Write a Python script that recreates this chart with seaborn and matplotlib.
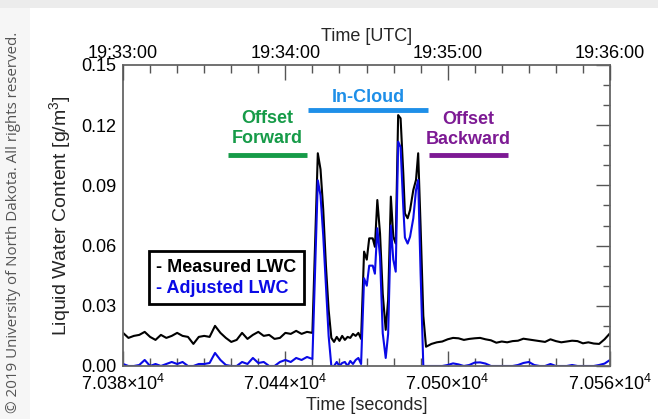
import numpy as np
import pandas as pd
import matplotlib
matplotlib.use("Agg")
import matplotlib.pyplot as plt
import seaborn as sns
from matplotlib.ticker import FixedLocator, MultipleLocator, FuncFormatter
from matplotlib.patches import Rectangle

# Zeit [s] und LWC [g/m^3]
time_s = [
    70380, 70382, 70384, 70386, 70388, 70390, 70392, 70394, 70396, 70398,
    70400, 70402, 70404, 70406, 70408, 70410, 70412, 70414, 70416, 70418,
    70420, 70422, 70424, 70426, 70428, 70430, 70432, 70434, 70436, 70438,
    70440, 70442, 70444, 70446, 70448, 70450,
    70452, 70453, 70454, 70455, 70456, 70457, 70458, 70459, 70460, 70461,
    70462, 70463, 70464, 70465, 70466, 70467, 70468,
    70469.1, 70470.1, 70471.0, 70472.3, 70473.1, 70474.0, 70475.0, 70476.0,
    70477.1, 70478.0, 70479.0, 70479.9, 70480.8, 70481.7, 70482.6, 70483.6,
    70484.2, 70485.2, 70486.1, 70487.3, 70488.3, 70489.1, 70490.0, 70491.0,
    70492.0,
    70494, 70496, 70498, 70500, 70502, 70504, 70506, 70508, 70510, 70512,
    70514, 70516, 70518, 70520, 70522, 70524, 70526, 70528, 70530, 70532,
    70534, 70536, 70538, 70540, 70542, 70544, 70546, 70548, 70550, 70552,
    70554, 70556, 70558, 70560,
]

measured_lwc = [
    0.0165, 0.0140, 0.0150, 0.0155, 0.0170, 0.0145, 0.0130, 0.0155, 0.0140, 0.0150,
    0.0165, 0.0150, 0.0145, 0.0110, 0.0145, 0.0150, 0.0145, 0.0200, 0.0165, 0.0140,
    0.0120, 0.0130, 0.0165, 0.0135, 0.0155, 0.0170, 0.0150, 0.0155, 0.0135, 0.0140,
    0.0165, 0.0160, 0.0175, 0.0160, 0.0170, 0.0165,
    0.1060, 0.0980, 0.0780, 0.0500, 0.0280, 0.0140, 0.0120, 0.0145, 0.0125, 0.0150,
    0.0130, 0.0145, 0.0140, 0.0160, 0.0150, 0.0165, 0.0135,
    0.0570, 0.0530, 0.0636, 0.0636, 0.0594, 0.0827, 0.0660, 0.0360,
    0.0180, 0.0330, 0.0844, 0.0644, 0.0610, 0.1250, 0.1234, 0.0960,
    0.0760, 0.0736, 0.0777, 0.0877, 0.0927, 0.1060, 0.0694, 0.0250,
    0.0096,
    0.0110, 0.0118, 0.0122, 0.0133, 0.0140, 0.0138, 0.0130, 0.0135, 0.0138, 0.0140,
    0.0133, 0.0128, 0.0116, 0.0122, 0.0118, 0.0124, 0.0126, 0.0136, 0.0132, 0.0128,
    0.0124, 0.0120, 0.0133, 0.0124, 0.0118, 0.0122, 0.0126, 0.0124, 0.0113, 0.0118,
    0.0112, 0.0110, 0.0133, 0.0163,
]

adjusted_lwc = [
    0.0010, 0.0000, 0.0000, 0.0005, 0.0030, 0.0000, 0.0010, 0.0000, 0.0010, 0.0020,
    0.0010, 0.0020, 0.0000, 0.0000, 0.0010, 0.0010, 0.0015, 0.0065, 0.0030, 0.0005,
    0.0000, 0.0000, 0.0020, 0.0010, 0.0040, 0.0015, 0.0020, 0.0000, 0.0000, 0.0020,
    0.0030, 0.0020, 0.0040, 0.0030, 0.0045, 0.0035,
    0.0925, 0.0850, 0.0650, 0.0400, 0.0150, 0.0000, 0.0000, 0.0020, 0.0000, 0.0015,
    0.0020, 0.0000, 0.0025, 0.0010, 0.0030, 0.0040, 0.0010,
    0.0437, 0.0400, 0.0500, 0.0500, 0.0460, 0.0686, 0.0545, 0.0163,
    0.0040, 0.0160, 0.0700, 0.0530, 0.0470, 0.1118, 0.1090, 0.0790,
    0.0640, 0.0610, 0.0644, 0.0736, 0.0877, 0.0927, 0.0460, 0.0000,
    0.0000,
    0.0000, 0.0000, 0.0000, 0.0005, 0.0013, 0.0008, 0.0000, 0.0005, 0.0017, 0.0018,
    0.0012, 0.0000, 0.0000, 0.0000, 0.0000, 0.0000, 0.0005, 0.0015, 0.0020, 0.0005,
    0.0000, 0.0000, 0.0010, 0.0000, 0.0000, 0.0000, 0.0005, 0.0000, 0.0000, 0.0000,
    0.0000, 0.0005, 0.0012, 0.0030,
]

utc_ticks = [70380, 70440, 70500, 70560]
utc_labels = ["19:33:00", "19:34:00", "19:35:00", "19:36:00"]

# Abschnitte: (Text, Farbe, Start, Ende)
segments = [
    ("Offset\nForward", "#169b48", 70418.8, 70448.0),
    ("In-Cloud", "#1e8fe8", 70448.4, 70492.7),
    ("Offset\nBackward", "#7d1a94", 70493.0, 70522.3),
]
segment_line_y = [0.1051, 0.1275, 0.1051]
segment_text_y = [0.1185, 0.1340, 0.1180]

sns.set_style("white")
plt.rcParams["font.family"] = ["Liberation Sans", "DejaVu Sans"]
plt.rcParams["mathtext.fontset"] = "custom"
plt.rcParams["mathtext.rm"] = "Liberation Sans"
plt.rcParams["mathtext.it"] = "Liberation Sans:italic"
plt.rcParams["mathtext.bf"] = "Liberation Sans:bold"

df = pd.DataFrame({
    "Time": time_s * 2,
    "LWC": measured_lwc + adjusted_lwc,
    "Serie": ["Measured"] * len(time_s) + ["Adjusted"] * len(time_s),
})

fig = plt.figure(figsize=(6.58, 4.19), dpi=100)
fig.patches.append(Rectangle((0, 0), 0.045, 1, transform=fig.transFigure,
                             facecolor="#f6f6f6", edgecolor="none", zorder=-5))
fig.patches.append(Rectangle((0, 0.982), 1, 0.018, transform=fig.transFigure,
                             facecolor="#ececec", edgecolor="none", zorder=-5))
ax = fig.add_axes([0.187, 0.1265, 0.740, 0.7185])

sns.lineplot(data=df, x="Time", y="LWC", hue="Serie",
             hue_order=["Measured", "Adjusted"],
             palette={"Measured": "black", "Adjusted": "#0a0ae6"},
             linewidth=1.5, legend=False, ax=ax)

ax.set_xlim(70380, 70560)
ax.set_ylim(0, 0.15)

fs = 13
ax.xaxis.set_major_locator(FixedLocator(utc_ticks))
ax.xaxis.set_minor_locator(MultipleLocator(10))
ax.xaxis.set_major_formatter(FuncFormatter(
    lambda v, p: r"%.3f$\times$10$^{4}$" % (v / 1e4)))
ax.yaxis.set_major_locator(MultipleLocator(0.03))
ax.yaxis.set_minor_locator(MultipleLocator(0.01))
ax.yaxis.set_major_formatter(FuncFormatter(lambda v, p: "%.2f" % v))

tick_col = "#555555"
ax.tick_params(axis="both", which="both", direction="in", colors=tick_col,
               labelcolor="black", labelsize=fs, width=1.0)
ax.tick_params(axis="x", which="major", length=11, pad=6)
ax.tick_params(axis="x", which="minor", length=5.5)
ax.tick_params(axis="y", which="major", length=10, pad=5)
ax.tick_params(axis="y", which="minor", length=5)
ax.tick_params(axis="y", which="both", right=True)
for sp in ax.spines.values():
    sp.set_color("#666666")
    sp.set_linewidth(1.3)

ax.set_xlabel("Time [seconds]", fontsize=fs, labelpad=2)
ax.set_ylabel("Liquid Water Content [g/m$^3$]", fontsize=14, labelpad=6)

ax2 = ax.twiny()
ax2.set_xlim(ax.get_xlim())
ax2.xaxis.set_major_locator(FixedLocator(utc_ticks))
ax2.xaxis.set_minor_locator(MultipleLocator(10))
ax2.set_xticklabels(utc_labels)
ax2.tick_params(axis="x", which="both", direction="in", colors=tick_col,
                labelcolor="black", labelsize=fs, width=1.0)
ax2.tick_params(axis="x", which="major", length=11, pad=2)
ax2.tick_params(axis="x", which="minor", length=5.5)
for sp in ax2.spines.values():
    sp.set_visible(False)
ax2.set_xlabel("Time [UTC]", fontsize=fs, labelpad=3)

for (txt, col, t0, t1), ly, ty in zip(segments, segment_line_y, segment_text_y):
    ax.plot([t0, t1], [ly, ly], color=col, linewidth=3.5, solid_capstyle="butt")
    ax.text((t0 + t1) / 2, ty, txt, color=col, fontsize=fs, fontweight="bold",
            ha="center", va="center", linespacing=1.25)

# Legende als Textkasten
h1, = ax.plot([], [], color="none")
h2, = ax.plot([], [], color="none")
leg = ax.legend([h1, h2], ["- Measured LWC", "- Adjusted LWC"],
                loc="lower left", bbox_to_anchor=(0.053, 0.205),
                borderaxespad=0, handlelength=0, handletextpad=0,
                fancybox=False, framealpha=1, edgecolor="black",
                borderpad=0.4, labelspacing=0.25,
                prop={"size": fs, "weight": "bold"})
leg.get_frame().set_linewidth(2.0)
for t, c in zip(leg.get_texts(), ["black", "#0a0ae6"]):
    t.set_color(c)

fig.text(0.02, 0.47, "© 2019 University of North Dakota. All rights reserved.",
         rotation=90, ha="center", va="center", color="#555555",
         fontsize=10.9, family=["Open Sans", "DejaVu Sans"])

fig.savefig("out.png", dpi=100)
